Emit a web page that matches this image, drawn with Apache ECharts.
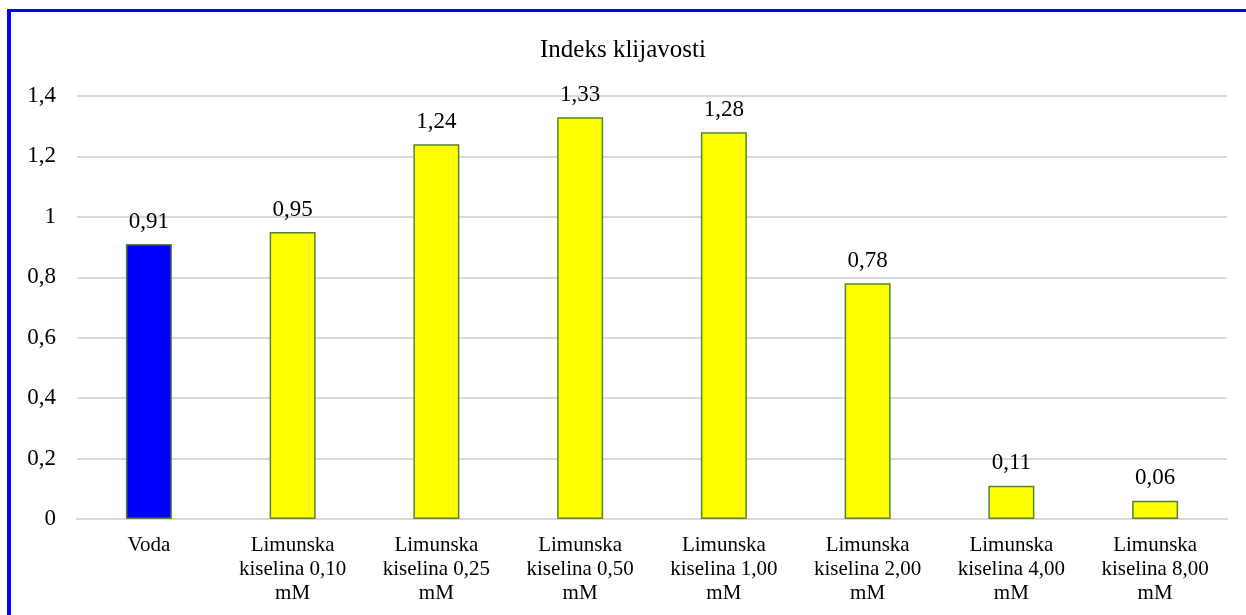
<!DOCTYPE html>
<html>
<head>
<meta charset="utf-8">
<script src="https://cdn.jsdelivr.net/npm/echarts@6/dist/echarts.min.js"></script>
<style>
  html, body { margin: 0; padding: 0; background: #fff; overflow: hidden; }
  #frame {
    position: absolute; left: 7px; top: 9px; width: 1300px; height: 700px;
    border-top: 3px solid #0000ff; border-left: 4px solid #0000ff;
  }
  #chart { position: absolute; left: 0; top: 0; width: 1246px; height: 615px; }
</style>
</head>
<body>
<div id="frame"></div>
<div id="chart"></div>
<script>
const categories = [
  'Voda',
  'Limunska\nkiselina 0,10\nmM',
  'Limunska\nkiselina 0,25\nmM',
  'Limunska\nkiselina 0,50\nmM',
  'Limunska\nkiselina 1,00\nmM',
  'Limunska\nkiselina 2,00\nmM',
  'Limunska\nkiselina 4,00\nmM',
  'Limunska\nkiselina 8,00\nmM'
];
const values = [0.91, 0.95, 1.24, 1.33, 1.28, 0.78, 0.11, 0.06];
const barColors = ['#0000ff', '#ffff00', '#ffff00', '#ffff00', '#ffff00', '#ffff00', '#ffff00', '#ffff00'];

const fontFamily = '"Liberation Serif", "Times New Roman", serif';
const comma = v => String(v).replace('.', ',');

const chart = echarts.init(document.getElementById('chart'));

chart.setOption({
  backgroundColor: 'transparent',
  animation: false,
  textStyle: { fontFamily },
  title: {
    text: 'Indeks klijavosti',
    left: 'center',
    top: 33,
    textStyle: { fontFamily, fontSize: 25, fontWeight: 'normal', color: '#000' }
  },
  grid: { left: 77, right: 19, top: 96, bottom: 96 },
  xAxis: {
    type: 'category',
    data: categories,
    axisLine: { lineStyle: { color: '#d9d9d9', width: 2 } },
    axisTick: { show: false },
    axisLabel: { color: '#000', fontFamily, fontSize: 21, lineHeight: 24, margin: 14, interval: 0 }
  },
  yAxis: {
    type: 'value',
    min: 0,
    max: 1.4,
    interval: 0.2,
    axisLine: { show: false },
    axisTick: { show: false },
    axisLabel: {
      color: '#000', fontFamily, fontSize: 23, margin: 21,
      formatter: v => comma(Math.round(v * 10) / 10)
    },
    splitLine: { lineStyle: { color: '#d9d9d9', width: 2 } }
  },
  series: [{
    type: 'bar',
    barWidth: '32%',
    data: values.map((v, i) => ({
      value: v,
      itemStyle: { color: barColors[i], borderColor: '#548235', borderWidth: 1.5 }
    })),
    label: {
      show: true,
      position: 'top',
      distance: 11,
      color: '#000',
      fontFamily,
      fontSize: 23,
      formatter: p => comma(p.value.toFixed(2))
    }
  }]
});
</script>
</body>
</html>
